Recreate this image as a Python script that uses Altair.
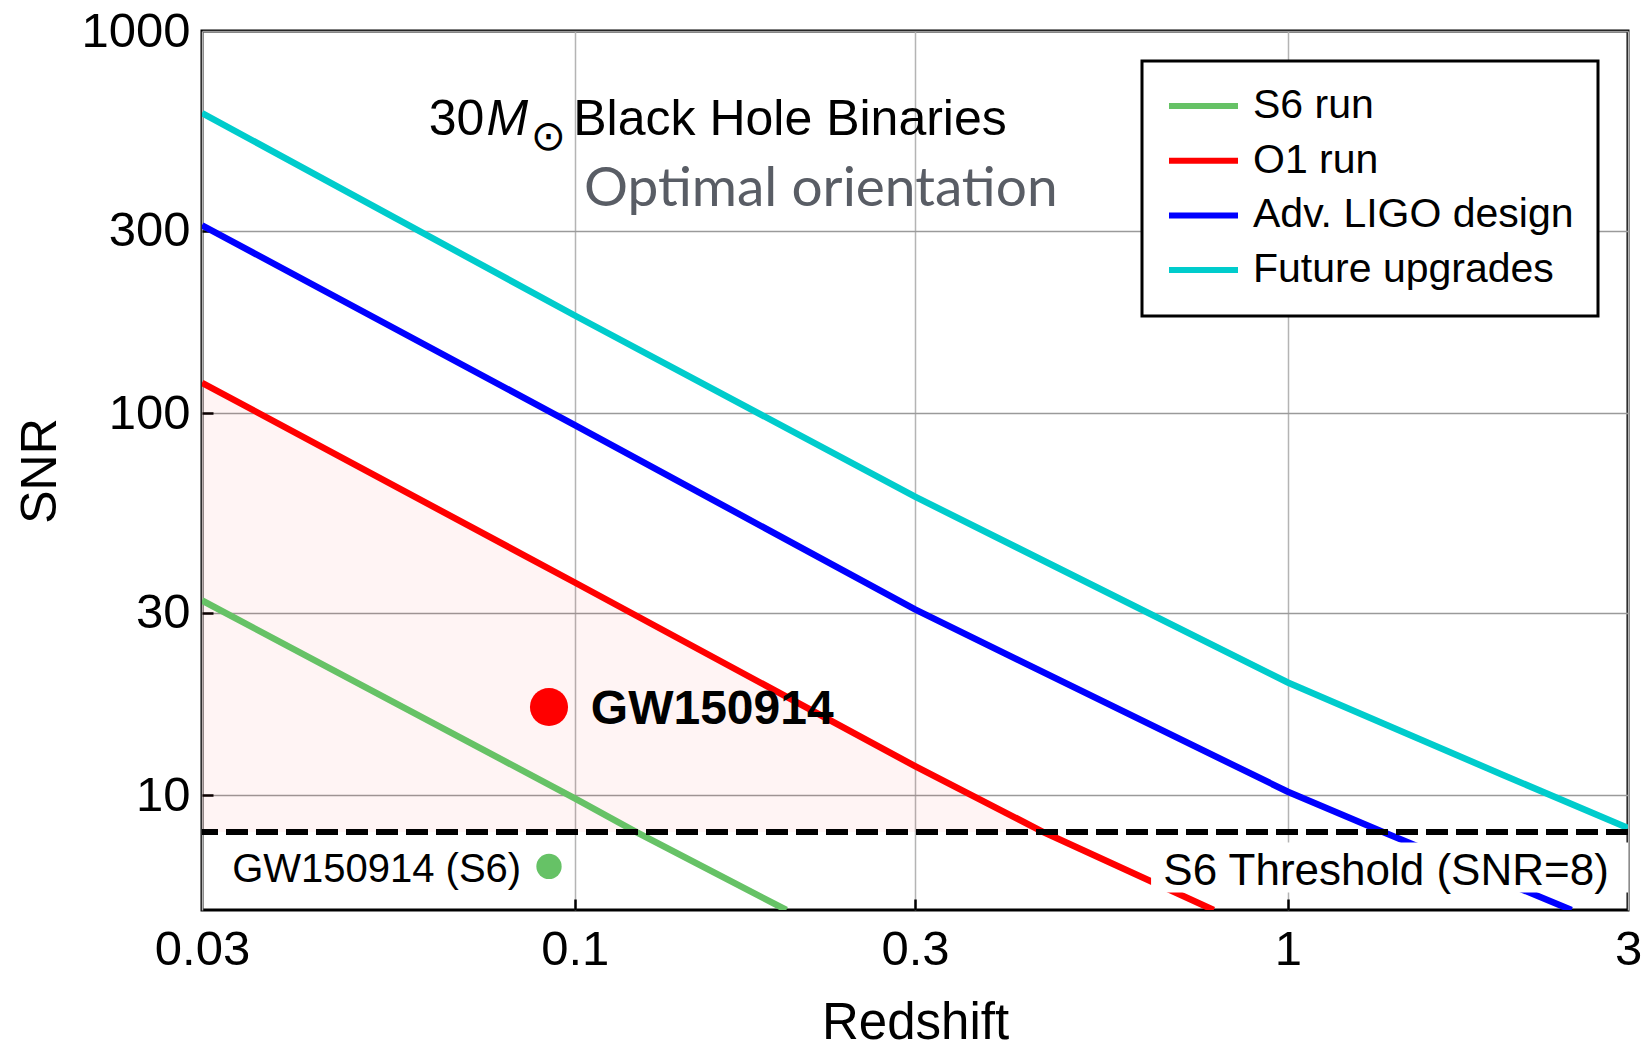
import altair as alt
import pandas as pd

# SNR versus redshift for 30 Msun binary black holes (optimal orientation)
S6_Z = [0.03, 0.1, 0.122, 0.198]
S6_SNR = [32.3, 9.8, 8.0, 5.0]
O1_Z = [0.03, 0.1, 0.3, 0.454, 0.787]
O1_SNR = [120, 36, 11.9, 8.0, 5.0]
ALIGO_Z = [0.03, 0.1, 0.3, 1.0, 1.36, 2.5]
ALIGO_SNR = [310, 93, 30.6, 10.2, 8.0, 5.0]
FUTURE_Z = [0.03, 0.1, 0.3, 1.0, 2.0, 3.0]
FUTURE_SNR = [610, 180, 60.4, 19.7, 11.3, 8.2]

SERIES = ["S6 run", "O1 run", "Adv. LIGO design", "Future upgrades"]
COLORS = ["#66c266", "#ff0000", "#0000ff", "#00cccc"]

THRESHOLD = 8
EVENT_Z = 0.092
EVENT_SNR_O1 = 17.0
EVENT_SNR_S6 = 6.5

X_TICKS = [0.03, 0.1, 0.3, 1, 3]
Y_TICKS = [10, 30, 100, 300, 1000]
X_INNER = [0.1, 0.3, 1]
Y_INNER = [10, 30, 100, 300]

# annotation anchors in data units (redshift, SNR)
TITLE_PARTS = [
    ("30", 0.0624, 586),
    ("M", 0.0752, 586),
    ("\u2299", 0.0918, 528),
    ("Black Hole Binaries", 0.0995, 586),
]
SUBTITLE = ("Optimal orientation", 0.103, 385)
EVENT_LABEL = ("GW150914", 0.1053, 16.7)
S6_EVENT_LABEL = ("GW150914 (S6)", 0.0841, 6.37)
THRESH_LABEL = ("S6 Threshold (SNR=8)", 2.82, 6.3)
THRESH_BOX = (0.643, 3.0, 5.56, 7.51)

FONT = "Liberation Sans"

rows = []
for name, zs, ss in [("S6 run", S6_Z, S6_SNR), ("O1 run", O1_Z, O1_SNR),
                     ("Adv. LIGO design", ALIGO_Z, ALIGO_SNR),
                     ("Future upgrades", FUTURE_Z, FUTURE_SNR)]:
    for z, s in zip(zs, ss):
        rows.append({"run": name, "z": z, "snr": s})
lines_df = pd.DataFrame(rows)

area_df = pd.DataFrame({"z": [z for z in O1_Z if z <= 0.454],
                        "snr": [s for z, s in zip(O1_Z, O1_SNR) if z <= 0.454]})
area_df["base"] = THRESHOLD

x_scale = alt.Scale(type="log", domain=[0.03, 3], nice=False)
y_scale = alt.Scale(type="log", domain=[5, 1000], nice=False)


def xq(field="z", axis=None):
    return alt.X(f"{field}:Q", scale=x_scale, axis=axis)


def yq(field="snr", axis=None):
    return alt.Y(f"{field}:Q", scale=y_scale, axis=axis)


x_main_axis = alt.Axis(
    title="Redshift", values=X_TICKS, format="~g", orient="bottom",
    grid=True, gridColor="#b4b4b4", gridWidth=1.5, ticks=False, domain=False,
    labelFont=FONT, labelFontSize=49, labelColor="black", labelPadding=15,
    labelFlush=False, labelOverlap=False,
    titleFont=FONT, titleFontSize=51, titleFontWeight="normal",
    titleColor="black", titlePadding=24,
)
y_main_axis = alt.Axis(
    title="SNR", values=Y_TICKS, format="~g", orient="left",
    grid=True, gridColor="#9a9a9a", gridWidth=1.5, ticks=False, domain=False,
    labelFont=FONT, labelFontSize=49, labelColor="black", labelPadding=12,
    labelFlush=False, labelOverlap=False,
    titleFont=FONT, titleFontSize=50, titleFontWeight="normal",
    titleColor="black", titlePadding=15,
)
# short inward tick marks
x_tick_axis = alt.Axis(
    title=None, values=X_INNER, orient="bottom", labels=False, grid=False,
    domain=False, ticks=True, tickSize=11, tickWidth=2.5, tickColor="black",
    offset=-11,
)
y_tick_axis = alt.Axis(
    title=None, values=Y_INNER, orient="left", labels=False, grid=False,
    domain=False, ticks=True, tickSize=11, tickWidth=2.5, tickColor="black",
    offset=-11,
)

shade = alt.Chart(area_df).mark_area(color="#ff0000", opacity=0.045).encode(
    x=xq(axis=x_tick_axis),
    y=yq(axis=y_tick_axis),
    y2="base:Q",
)

curves = alt.Chart(lines_df).mark_line(strokeWidth=6.5, clip=True).encode(
    x=xq(axis=x_main_axis),
    y=yq(axis=y_main_axis),
    color=alt.Color(
        "run:N",
        scale=alt.Scale(domain=SERIES, range=COLORS),
        legend=alt.Legend(
            title=None, orient="none", legendX=940, legendY=30,
            symbolType="stroke", symbolSize=4761, symbolStrokeWidth=6,
            labelFont=FONT, labelFontSize=41, labelColor="black",
            labelLimit=600, labelOffset=12, clipHeight=42, rowPadding=12.7,
            padding=24, strokeColor="black", fillColor="white",
        ),
    ),
    detail="run:N",
)

box_df = pd.DataFrame({"z0": [THRESH_BOX[0]], "z1": [THRESH_BOX[1]],
                       "s0": [THRESH_BOX[2]], "s1": [THRESH_BOX[3]]})
label_box = alt.Chart(box_df).mark_rect(color="white").encode(
    x=xq("z0"), x2="z1:Q", y=yq("s0"), y2="s1:Q",
)

thr_df = pd.DataFrame({"snr": [THRESHOLD]})
threshold = alt.Chart(thr_df).mark_rule(
    color="black", strokeWidth=6, strokeDash=[22, 8]
).encode(y=yq())

pts_df = pd.DataFrame({"z": [EVENT_Z, EVENT_Z],
                       "snr": [EVENT_SNR_O1, EVENT_SNR_S6],
                       "run": ["O1 run", "S6 run"]})
event_o1 = alt.Chart(pts_df[pts_df.run == "O1 run"]).mark_circle(
    size=1450, color="#ff0000", opacity=1).encode(x=xq(), y=yq())
event_s6 = alt.Chart(pts_df[pts_df.run == "S6 run"]).mark_circle(
    size=640, color="#66c266", opacity=1).encode(x=xq(), y=yq())


def text_layer(item, **style):
    label, z, s = item
    df = pd.DataFrame({"label": [label], "z": [z], "snr": [s]})
    return alt.Chart(df).mark_text(baseline="middle", **style).encode(
        x=xq(), y=yq(), text="label:N")


title_layers = [
    text_layer(TITLE_PARTS[0], align="left", font=FONT, fontSize=50, color="black"),
    text_layer(TITLE_PARTS[1], align="left", font=FONT, fontSize=50,
               fontStyle="italic", color="black"),
    text_layer(TITLE_PARTS[2], align="center", font="DejaVu Sans", fontSize=42,
               color="black"),
    text_layer(TITLE_PARTS[3], align="left", font=FONT, fontSize=50, color="black"),
    text_layer(SUBTITLE, align="left", font="Lato", fontSize=55, color="#595d65"),
]
event_text = text_layer(EVENT_LABEL, align="left", font=FONT, fontSize=48,
                        fontWeight="bold", color="black")
s6_text = text_layer(S6_EVENT_LABEL, align="right", font=FONT, fontSize=40,
                     color="black")
thr_text = text_layer(THRESH_LABEL, align="right", font=FONT, fontSize=44,
                      color="black")

chart = alt.layer(
    shade, curves, label_box, threshold, event_o1, event_s6,
    *title_layers, event_text, s6_text, thr_text,
).resolve_axis(
    x="independent", y="independent"
).properties(
    width=1426, height=879,
    autosize=alt.AutoSizeParams(type="none"),
    padding={"left": 202, "top": 31, "right": 20, "bottom": 138},
    background="white",
).configure_view(
    stroke="black", strokeWidth=3, fill="white"
).configure_legend(
    strokeWidth=3
)

chart.save("out.html", embed_options={"renderer": "svg", "actions": False})
